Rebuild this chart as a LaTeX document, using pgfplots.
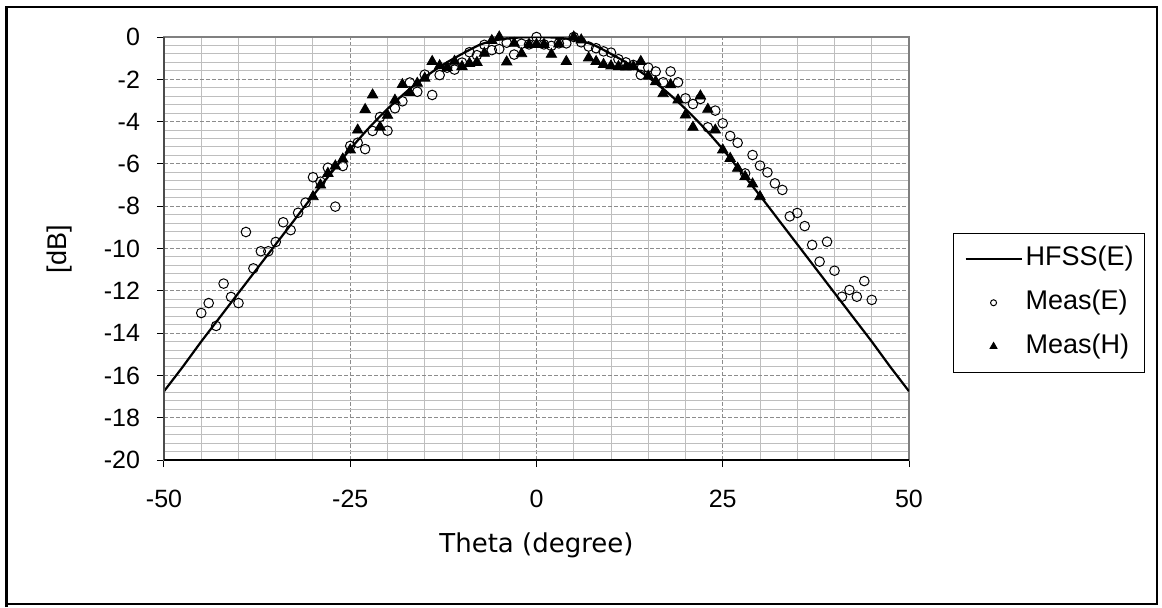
\documentclass[border=0pt]{standalone}
\usepackage{fontspec}
\setmainfont{Liberation Sans}
\newfontfamily\labelfont{DejaVu Sans}
\usepackage{pgfplots}
\pgfplotsset{compat=1.18}

\definecolor{minorgrid}{RGB}{190,190,190}
\definecolor{majorgrid}{RGB}{140,140,140}
\definecolor{frameg}{RGB}{128,128,128}

\pgfplotsset{
  leglineimg/.style={legend image code/.code={\draw[##1] (0pt,0pt) -- (28pt,0pt);}},
  legmarkimg/.style={legend image code/.code={\path (0pt,0pt) (28pt,0pt);
      \draw[##1, mark size=#1] plot coordinates {(14pt,0pt)};}},
}

\begin{document}
\begin{tikzpicture}[x=0.5pt,y=0.5pt]
\useasboundingbox (0,0) rectangle (1162,607);
\fill[white] (0,0) rectangle (1162,607);
\draw[line width=1pt] (6,3) rectangle (1157,600);
\draw[line width=1.5pt] (6,0) -- (6,600);

\begin{axis}[
  at={(82pt,73.5pt)}, anchor=south west,
  scale only axis, width=372.5pt, height=211.5pt,
  xmin=-50, xmax=50, ymin=-20, ymax=0,
  xtick={-50,-25,0,25,50}, ytick={-20,-18,...,0},
  minor x tick num=4, minor y tick num=4,
  grid=both,
  minor grid style={minorgrid, line width=0.5pt},
  major grid style={majorgrid, line width=0.5pt, dash pattern=on 2pt off 1pt},
  axis line style={frameg, line width=0.8pt},
  tick align=outside, major tick length=3.5pt, minor tick length=0pt,
  tick style={black, line width=0.5pt},
  xtick pos=bottom, ytick pos=left,
  /pgf/number format/assume math mode=true,
  tick label style={font=\fontsize{12.5}{15}\selectfont},
  yticklabel style={xshift=-5pt},
  xticklabel style={yshift=-8pt},
  xlabel={Theta (degree)},
  xlabel style={font=\labelfont\fontsize{13}{15}\selectfont, at={(axis description cs:0.5,-0.201)}, anchor=center},
  ylabel={[dB]},
  ylabel style={font=\fontsize{13.5}{15}\selectfont, at={(axis description cs:-0.140,0.498)}, anchor=center},
  clip mode=individual,
  legend style={at={(1.059,0.537)}, anchor=north west, draw=black, line width=0.5pt,
    font=\fontsize{13.5}{15}\selectfont, inner xsep=5.5pt, inner ysep=6.5pt, row sep=9pt,
    nodes={inner sep=0pt, text height=9.8pt, text depth=3pt},
    /tikz/every odd column/.append style={column sep=1.5pt}},
  legend cell align=left,
]

% HFSS simulation, E-plane
\addplot[black, line width=1.1pt, smooth, tension=0.4, leglineimg]
coordinates{
(-50,-16.75)(-47.5,-15.6)(-45,-14.4)(-42.5,-13.25)(-40,-12.1)(-37.5,-10.95)
(-35,-9.8)(-32.5,-8.65)(-30,-7.5)(-27.5,-6.4)(-25,-5.3)(-22.5,-4.3)
(-20,-3.4)(-17.5,-2.6)(-15,-1.9)(-12.5,-1.3)(-10,-0.8)(-7.5,-0.35)
(-5,-0.12)(-2.5,-0.03)(0,0)(2.5,-0.03)(5,-0.12)(7.5,-0.35)
(10,-0.8)(12.5,-1.3)(15,-1.9)(17.5,-2.6)(20,-3.4)(22.5,-4.3)
(25,-5.3)(27.5,-6.4)(30,-7.5)(32.5,-8.65)(35,-9.8)(37.5,-10.95)
(40,-12.1)(42.5,-13.25)(45,-14.4)(47.5,-15.6)(50,-16.75)
};
\addlegendentry{\makebox[54pt][l]{HFSS(E)}}

% measured, E-plane
\addplot[only marks, mark=o, mark size=2.4pt, black, line width=0.5pt, legmarkimg=1.5pt]
coordinates{
(-45,-13.05)(-44,-12.58)(-43,-13.66)(-42,-11.66)(-41,-12.29)(-40,-12.58)
(-39,-9.22)(-38,-10.94)(-37,-10.13)(-36,-10.13)(-35,-9.69)(-34,-8.76)
(-33,-9.13)(-32,-8.31)(-31,-7.83)(-30,-6.63)(-29,-6.84)(-28,-6.18)
(-27,-8.02)(-26,-6.10)(-25,-5.15)(-24,-5.00)(-23,-5.30)(-22,-4.44)
(-21,-3.78)(-20,-4.43)(-19,-3.37)(-18,-3.04)(-17,-2.15)(-16,-2.59)
(-15,-1.78)(-14,-2.74)(-13,-1.80)(-12,-1.45)(-11,-1.54)(-10,-1.21)
(-9,-0.72)(-8,-0.86)(-7,-0.37)(-6,-0.62)(-5,-0.57)(-4,-0.27)
(-3,-0.83)(-2,-0.32)(-1,-0.35)(0,0.0)(1,-0.35)(2,-0.42)
(3,-0.30)(4,-0.30)(5,0.0)(6,-0.25)(7,-0.45)(8,-0.53)
(9,-0.68)(10,-0.74)(11,-1.05)(12,-1.20)(13,-1.32)(14,-1.79)
(15,-1.45)(16,-1.63)(17,-2.14)(18,-1.63)(19,-2.14)(20,-2.90)
(21,-3.17)(22,-2.93)(23,-4.27)(24,-3.48)(25,-4.08)(26,-4.68)
(27,-5.00)(28,-6.45)(29,-5.58)(30,-6.08)(31,-6.40)(32,-6.92)
(33,-7.23)(34,-8.48)(35,-8.32)(36,-8.94)(37,-9.83)(38,-10.62)
(39,-9.68)(40,-11.05)(41,-12.28)(42,-11.96)(43,-12.28)(44,-11.54)
(45,-12.43)
};
\addlegendentry{\makebox[54pt][l]{Meas(E)}}

% measured, H-plane
\addplot[only marks, mark=triangle*, mark size=3pt, black, legmarkimg=1.9pt]
coordinates{
(-30,-7.55)(-29,-7.00)(-28,-6.45)(-27,-6.10)(-26,-5.77)(-25,-5.34)
(-24,-4.40)(-23,-3.43)(-22,-2.74)(-21,-4.26)(-20,-3.70)(-19,-2.99)
(-18,-2.25)(-17,-2.62)(-16,-2.19)(-15,-1.95)(-14,-1.16)(-13,-1.36)
(-12,-1.44)(-11,-1.15)(-10,-1.40)(-9,-1.25)(-8,-1.20)(-7,-0.77)
(-6,-0.17)(-5,0.0)(-4,-1.18)(-3,-0.30)(-2,-0.79)(-1,-0.35)
(0,-0.35)(1,-0.35)(2,-0.82)(3,-0.33)(4,-1.16)(5,0.0)
(6,-0.14)(7,-0.99)(8,-1.16)(9,-1.30)(10,-1.37)(11,-1.40)
(12,-1.42)(13,-1.40)(14,-1.16)(15,-1.85)(16,-2.11)(17,-2.68)
(18,-2.26)(19,-2.98)(20,-3.69)(21,-4.27)(22,-2.79)(23,-3.42)
(24,-4.40)(25,-5.34)(26,-5.74)(27,-6.21)(28,-6.60)(29,-6.95)
(30,-7.55)
};
\addlegendentry{\makebox[54pt][l]{Meas(H)}}

\draw[black!70, line width=0.9pt] (rel axis cs:0,0) -- (rel axis cs:0,1);
\draw[black, line width=0.6pt] (rel axis cs:0,0) -- (rel axis cs:1,0);
\end{axis}
\end{tikzpicture}
\end{document}
